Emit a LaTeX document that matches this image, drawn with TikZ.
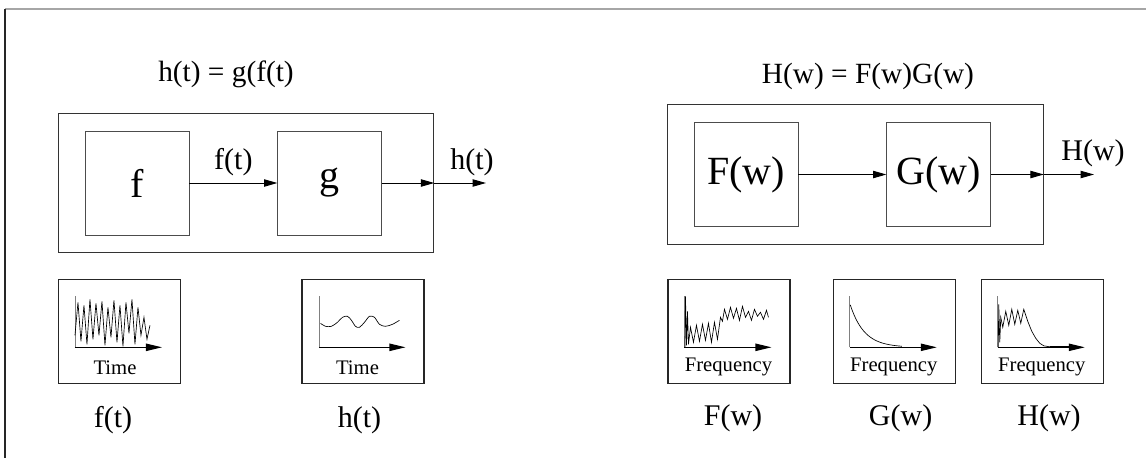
\documentclass[tikz,border=0pt]{standalone}
\usepackage{fontspec}
\setmainfont{Liberation Serif}
\usetikzlibrary{arrows.meta,positioning,calc}

\begin{document}
\begin{tikzpicture}[
  x=0.75pt, y=-0.75pt,
  node distance=66pt,
  system/.style={
    draw=black!80,
    line width=0.9pt,
    minimum width=281.5pt,
    minimum height=104.5pt,
    inner sep=0pt
  },
  block/.style={
    draw=black!70,
    line width=0.6pt,
    minimum width=78pt,
    minimum height=78pt,
    inner sep=0pt,
    font=\fontsize{30}{36}\selectfont
  },
  plotbox/.style={
    draw=black!85,
    line width=0.8pt,
    minimum width=91.5pt,
    minimum height=77.5pt,
    inner sep=0pt
  },
  siglabel/.style={font=\fontsize{22.5}{27}\selectfont},
  eqlabel/.style={font=\fontsize{22}{26}\selectfont},
  axislabel/.style={font=\fontsize{15.5}{18}\selectfont},
  arrow/.style={-{Triangle[length=10pt,width=5.5pt]},line width=0.7pt},
  xaxis/.style={-{Triangle[length=12pt,width=5.5pt]},line width=0.8pt},
  yaxis/.style={black!50,line width=0.6pt},
  signal/.style={line width=0.5pt}
]
\useasboundingbox (0,0) rectangle (1146,458);
% page frame
\draw[black!35,line width=0.8pt] (5,9) -- (1146,9);
\draw[black!85,line width=0.8pt] (5,9) -- (5,458);

% time domain
\node[eqlabel] (eqT) at (226,74) {h(t) = g(f(t)};
\node[system] (sysT) at (246,183) {};
\node[block] (fbox) at (137,183) {f};
\node[block,right=of fbox] (gbox) {g};
\coordinate (hout) at (486,183);
\draw[arrow] (fbox) -- node[siglabel,above=2pt] (flbl) {f(t)} (gbox);
\draw[arrow] (gbox) -- (sysT.east);
\draw[arrow] (sysT.east) -- node[siglabel,pos=0.73,above=2pt] (hlbl) {h(t)} (hout);

% frequency domain
\node[eqlabel] (eqW) at (868,76.5) {H(w) = F(w)G(w)};
\node[system] (sysW) at (855.5,174.5) {};
\node[block] (Fbox) at (746,174.5) {F(w)};
\node[block,right=of Fbox] (Gbox) {G(w)};
\coordinate (Hout) at (1094,174.5);
\draw[arrow] (Fbox) -- (Gbox);
\draw[arrow] (Gbox) -- (sysW.east);
\draw[arrow] (sysW.east) -- node[siglabel,pos=0.98,above=2pt] (Hlbl) {H(w)} (Hout);

% signal plots
\node[plotbox] (timeA) at (119.5,331.5) {};
\node[plotbox] (timeB) at (363,331.5) {};
\node[plotbox] (freqF) at (729,331.5) {};
\node[plotbox] (freqG) at (894.3,331.5) {};
\node[plotbox] (freqH) at (1042.3,331.5) {};

\begin{scope}[shift={($(timeA.north west)+(17,68)$)},yscale=-1]
  \draw[yaxis] (0,0) -- (0,51);
  \draw[xaxis] (0,0) -- (87,0);
  \draw[signal] plot coordinates {(0,12) (3,45) (6,6) (9,42) (12,3) (15,48) (18,8)
    (21,44) (24,12) (27,46) (30,2) (33,40) (36,10) (39,47) (42,5) (45,42) (48,1)
    (51,45) (54,14) (57,48) (60,3) (63,40) (66,12) (69,30) (72,8) (75,22)};
  \node[axislabel] (timeAlbl) at (40,-20) {Time};
\end{scope}

\begin{scope}[shift={($(timeB.north west)+(18,68)$)},yscale=-1]
  \draw[yaxis] (0,0) -- (0,51);
  \draw[xaxis] (0,0) -- (86,0);
  \draw[signal] plot[smooth] coordinates {(1,24) (6,21) (12,21) (18,25) (23,30)
    (28,31) (32,27) (36,21) (40,20) (45,25) (50,31) (55,30) (60,23) (66,21)
    (73,23) (80,27)};
  \node[axislabel] (timeBlbl) at (38,-20) {Time};
\end{scope}

\begin{scope}[shift={($(freqF.north west)+(17,68)$)},yscale=-1]
  \draw[yaxis] (0,0) -- (0,51);
  \draw[xaxis] (0,0) -- (87,0);
  \draw[signal] plot coordinates {(0.5,0) (1,51) (2,2) (3,36) (4,3) (6,20) (9,5)
    (12,22) (15,6) (18,23) (21,7) (24,24) (27,5) (30,25) (33,8) (36,30) (38,26)
    (40,38) (43,28) (46,40) (49,29) (52,39) (55,27) (58,41) (61,30) (64,36)
    (67,27) (70,38) (73,31) (76,35) (79,28) (82,37) (84,30)};
  \node[axislabel] (freqFlbl) at (44,-20) {Frequency};
\end{scope}

\begin{scope}[shift={($(freqG.north west)+(17,68)$)},yscale=-1]
  \draw[yaxis] (0,0) -- (0,51);
  \draw[xaxis] (0,0) -- (87,0);
  \draw[signal] plot[domain=0.5:52,samples=40] (\x,{44*exp(-\x/14)});
  \node[axislabel] (freqGlbl) at (44,-20) {Frequency};
\end{scope}

\begin{scope}[shift={($(freqH.north west)+(17,68)$)},yscale=-1]
  \draw[yaxis] (0,0) -- (0,51);
  \draw[xaxis] (0,0) -- (87,0);
  \draw[signal] plot coordinates {(0.5,0) (1,43) (2,5) (3,30) (5,20) (8,36)
    (11,22) (14,38) (17,23) (20,37) (23,24) (26,38) (30,26) (34,16) (38,9)
    (42,4) (46,1.5) (52,0.5)};
  \draw[line width=1pt] (52,0.5) -- (75,0.5);
  \node[axislabel] (freqHlbl) at (44,-20) {Frequency};
\end{scope}

% names under the plots
\node[siglabel] (ftlbl) at (113,420) {f(t)};
\node[siglabel] (htlbl) at (359.5,420) {h(t)};
\node[siglabel] (Fwlbl) at (733,418) {F(w)};
\node[siglabel] (Gwlbl) at (900.6,418) {G(w)};
\node[siglabel] (Hwlbl) at (1049,418) {H(w)};
\end{tikzpicture}
\end{document}
